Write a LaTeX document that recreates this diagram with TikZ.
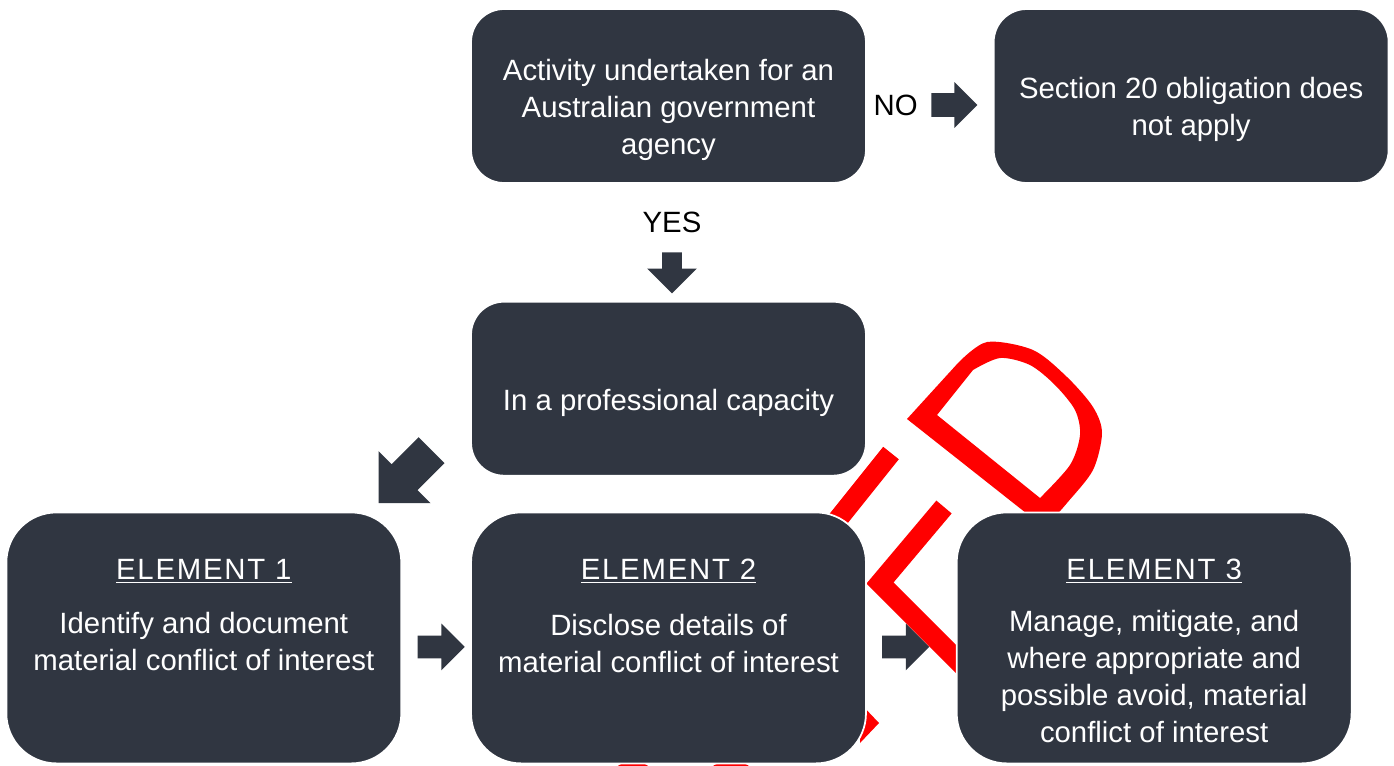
\documentclass[tikz,border=0pt]{standalone}
\usepackage{fontspec}
\setmainfont{Liberation Sans}
\newfontfamily\headfont[LetterSpace=6]{Liberation Sans}
\usetikzlibrary{positioning,shapes.arrows}
\definecolor{boxgray}{RGB}{48,54,65}

\begin{document}
\begin{tikzpicture}[x=0.02cm,y=-0.02cm,
  box/.style={fill=boxgray,draw=white,line width=1pt,rounded corners=0.66cm,
    minimum width=7.9cm,minimum height=3.48cm},
  elbox/.style={box,rounded corners=1cm,minimum height=5.02cm},
  boxtext/.style={text=white,align=center,inner sep=0pt,anchor=base,
    font=\fontsize{16.7}{21}\selectfont},
  headtext/.style={boxtext,font=\fontsize{16.7}{21}\headfont},
  answer/.style={inner sep=0pt,font=\fontsize{16.7}{20}\selectfont},
  blockarrow/.style={single arrow,fill=boxgray,inner xsep=0pt,inner ysep=0.22cm,
    minimum height=#1,minimum width=0.92cm,single arrow head extend=0.24cm},
  stamp/.style={red,line width=0.4cm}]
  \useasboundingbox (0,0) rectangle (1394,765);

  \fill[red,even odd rule]
    (907,419) -- plot[smooth] coordinates {(958,363) (987,342) (1033,350)
      (1067,377) (1093,407) (1102,433) (1093,470) (1067,503) (1045,528)} -- cycle
    (937,415) -- plot[smooth] coordinates {(973,370) (1000,358) (1030,365)
      (1055,385) (1075,410) (1080,435) (1070,465) (1040,498)} -- cycle;
  \draw[stamp] (944,507) -- (880,583) -- (965,668);
  \draw[stamp] (891,453) -- (815,548);
  \fill[red] (860,703) -- (879,723) -- (860,743) -- cycle;
  \fill[red]
    (633,768) ellipse [x radius=0.32cm,y radius=0.12cm]
    (731,768) ellipse [x radius=0.38cm,y radius=0.12cm];

  \node[box] (act) at (668.5,96) {};
  \node[box,right=2.52cm of act] (noapply) {};
  \node[box,below=2.34cm of act] (prof) {};
  \node[elbox,below=0.7cm of prof] (el2) {};
  \node[elbox,left=1.36cm of el2] (el1) {};
  \node[elbox,right=1.78cm of el2] (el3) {};

  \node[boxtext] (acttext) at ([yshift=-2.92cm]act.north)
    {Activity undertaken for an\\Australian government\\agency};
  \node[boxtext] (noapplytext) at ([yshift=-2.54cm]noapply.north)
    {Section 20 obligation does\\not apply};
  \node[boxtext] (proftext) at ([yshift=-2.2cm]prof.north)
    {In a professional capacity};

  \node[headtext] (head1) at ([yshift=-1.36cm]el1.north) {\underline{ELEMENT 1}};
  \node[headtext] (head2) at ([yshift=-1.36cm]el2.north) {\underline{ELEMENT 2}};
  \node[headtext] (head3) at ([yshift=-1.36cm]el3.north) {\underline{ELEMENT 3}};
  \node[boxtext] (body1) at ([yshift=-3.18cm]el1.north)
    {Identify and document\\material conflict of interest};
  \node[boxtext] (body2) at ([yshift=-3.22cm]el2.north)
    {Disclose details of\\material conflict of interest};
  \node[boxtext] (body3) at ([yshift=-4.62cm]el3.north)
    {Manage, mitigate, and\\where appropriate and\\possible avoid, material\\conflict of interest};

  \node[blockarrow=0.92cm,inner ysep=0.23cm,minimum width=0.9cm,
    single arrow head extend=0.22cm,anchor=tip] (noarrow)
    at ([xshift=-0.3cm,yshift=-0.18cm]noapply.west) {};
  \node[answer,left=0.26cm of noarrow.tail] (no) {NO};
  \node[blockarrow=0.82cm,inner ysep=0.19cm,minimum width=0.98cm,
    single arrow head extend=0.3cm,rotate=-90,anchor=tip] (yesarrow)
    at ([xshift=0.07cm,yshift=0.14cm]prof.north) {};
  \node[answer,above=0.38cm of yesarrow.tail] (yes) {YES};
  \node[blockarrow=1.5cm,inner ysep=0.36cm,minimum width=1.46cm,
    single arrow head extend=0.37cm,rotate=-135,anchor=tip] (profarrow)
    at ([xshift=-0.48cm,yshift=0.16cm]el1.north east) {};
  \node[blockarrow=0.94cm,anchor=tip] (arrow12) at ([xshift=-0.1cm,yshift=-0.18cm]el2.west) {};
  \node[blockarrow=0.94cm,anchor=tail] (arrow23) at ([xshift=0.3cm,yshift=-0.18cm]el2.east) {};
\end{tikzpicture}
\end{document}
